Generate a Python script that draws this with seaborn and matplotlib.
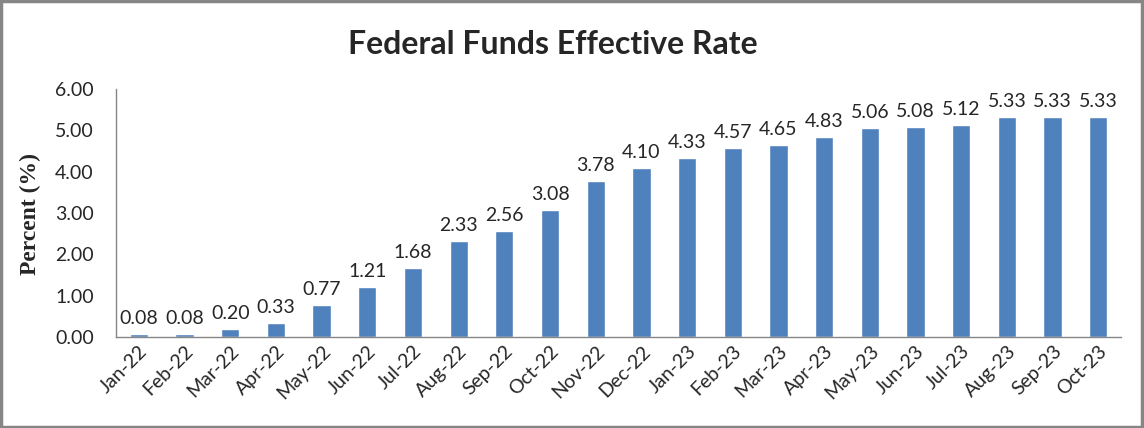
import matplotlib
matplotlib.use('Agg')
import matplotlib.pyplot as plt
import seaborn as sns
import pandas as pd

# === Data ===
months = ["Jan-22", "Feb-22", "Mar-22", "Apr-22", "May-22", "Jun-22", "Jul-22",
          "Aug-22", "Sep-22", "Oct-22", "Nov-22", "Dec-22", "Jan-23", "Feb-23",
          "Mar-23", "Apr-23", "May-23", "Jun-23", "Jul-23", "Aug-23", "Sep-23",
          "Oct-23"]
rates = [0.08, 0.08, 0.20, 0.33, 0.77, 1.21, 1.68, 2.33, 2.56, 3.08, 3.78,
         4.10, 4.33, 4.57, 4.65, 4.83, 5.06, 5.08, 5.12, 5.33, 5.33, 5.33]

df = pd.DataFrame({"month": months, "rate": rates})

sns.set_style("white")
plt.rcParams['font.family'] = ['Lato', 'DejaVu Sans']

fig = plt.figure(figsize=(11.44, 4.28), dpi=100)
ax = fig.add_axes([0.1014, 0.2126, 0.8786, 0.5794])

sns.barplot(data=df, x="month", y="rate", color="#4F81BD", saturation=1,
            width=0.4, ax=ax)

for i, v in enumerate(rates):
    ax.text(i, v + 0.17, f"{v:.2f}", ha="center", va="bottom", fontsize=14)

ax.set_ylim(0, 6)
ax.set_yticks([0, 1, 2, 3, 4, 5, 6])
ax.set_yticklabels([f"{t:.2f}" for t in range(7)], fontsize=14)
ax.set_xlim(-0.5, len(months) - 0.5)
ax.tick_params(axis="x", labelsize=14, length=0, pad=4)
ax.tick_params(axis="y", length=0, pad=16)
plt.setp(ax.get_xticklabels(), rotation=45, ha="right", rotation_mode="anchor")
ax.set_xlabel("")
ax.set_ylabel("")

for s in ["top", "right"]:
    ax.spines[s].set_visible(False)
for s in ["left", "bottom"]:
    ax.spines[s].set_color("#868686")
    ax.spines[s].set_linewidth(1)

fig.text(0.027, 0.5, "Percent (%)", rotation=90, ha="center", va="center",
         fontsize=17, fontweight="bold", family="Liberation Serif")
fig.text(0.483, 0.895, "Federal Funds Effective Rate", ha="center", va="center",
         fontsize=23, fontweight="bold")

# chart border
border = plt.Rectangle((0.001, 0.002), 0.997, 0.995, transform=fig.transFigure,
                       fill=False, edgecolor="#868686", linewidth=2.5)
fig.patches.append(border)

fig.savefig("out.png", dpi=100)
